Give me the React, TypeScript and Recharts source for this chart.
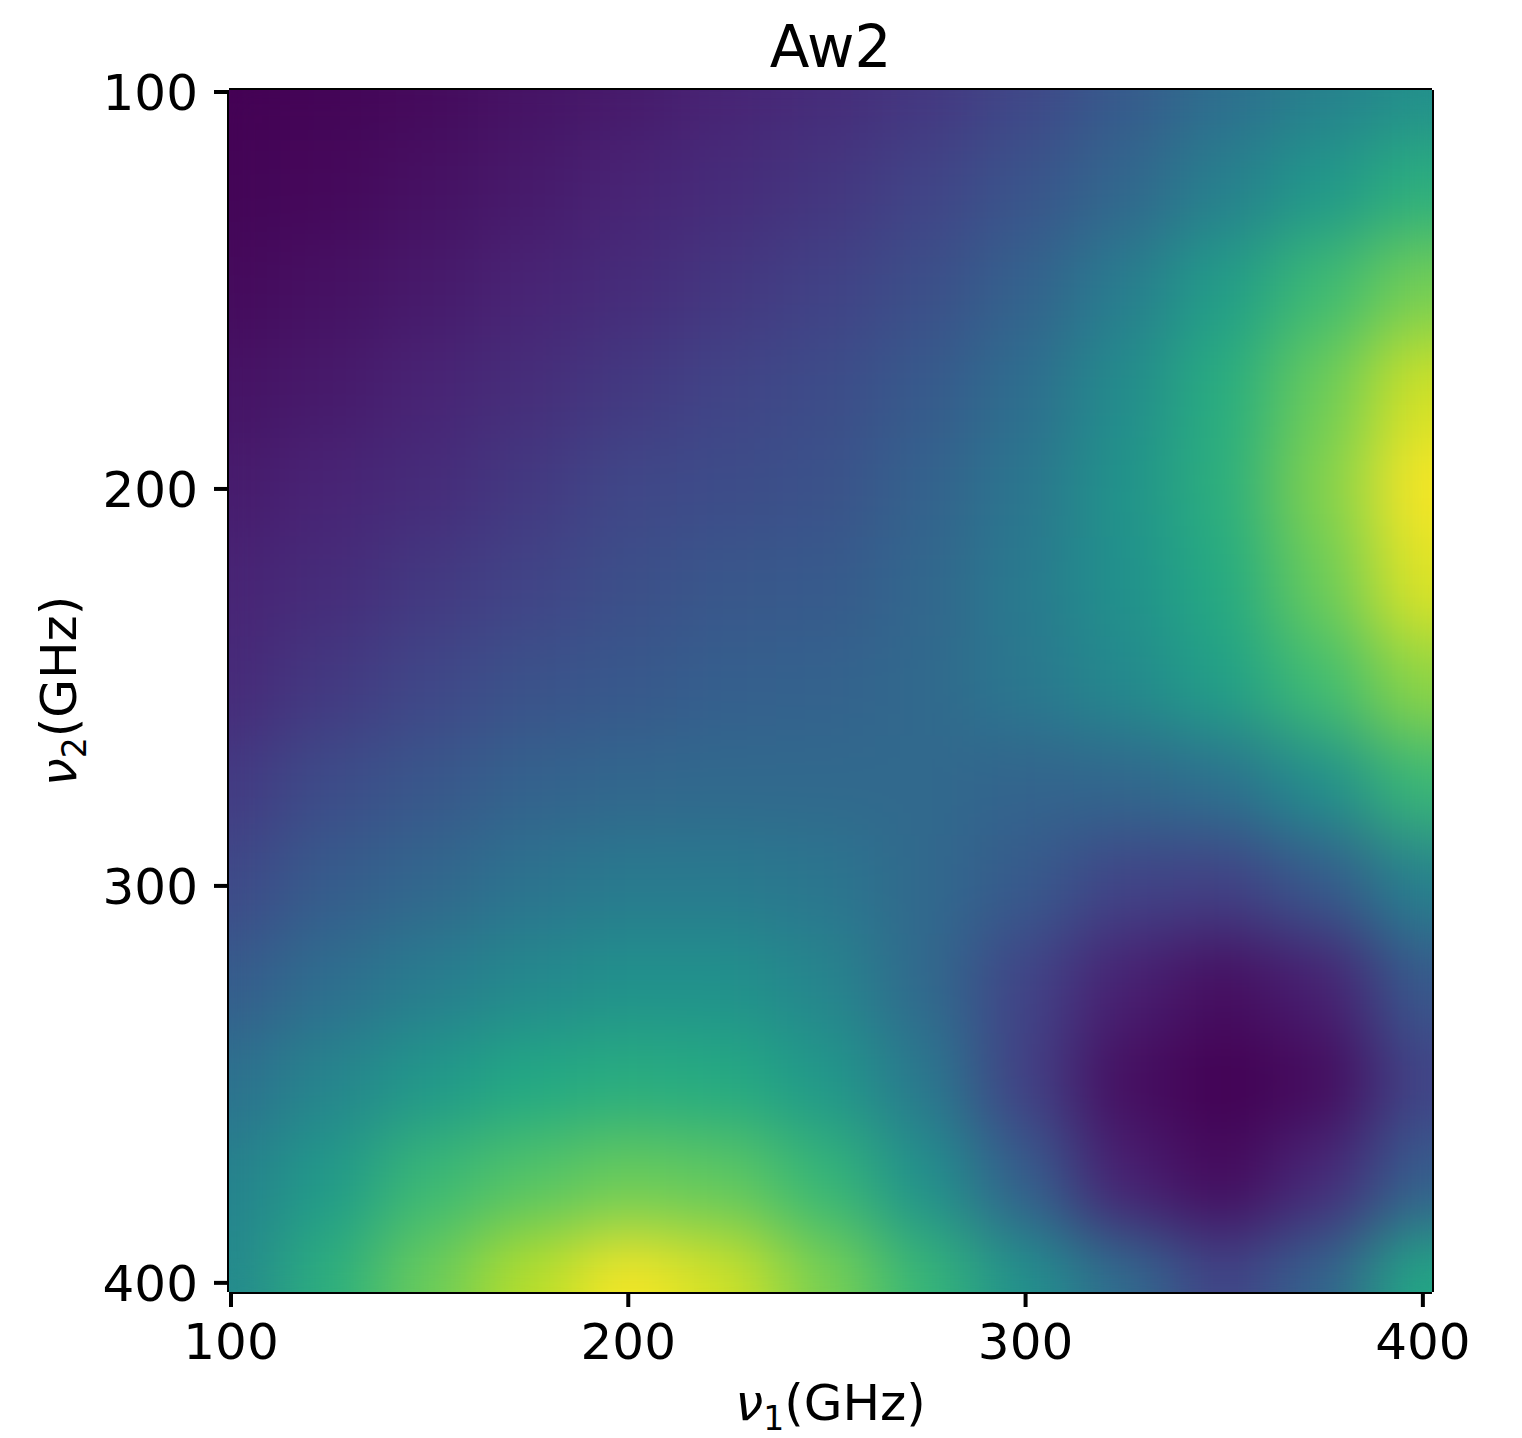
import React from "react";
import { ReferenceLine, Scatter, ScatterChart, XAxis, YAxis } from "recharts";

// grid positions (GHz)
const nu1 = [100, 125, 150, 175, 200, 225, 250, 275, 300, 325, 350, 375, 400];
const nu2 = [100, 125, 150, 175, 200, 225, 250, 275, 300, 325, 350, 375, 400];
const axisTicks = [100, 200, 300, 400];
const axisDomain: [number, number] = [99.5, 402.3];

// Aw2 on a 0..1 colour scale, one row per nu2 value, read across nu1
const aw2At100 = [0.0, 0.01, 0.025, 0.05, 0.07, 0.1, 0.125, 0.16, 0.21, 0.28, 0.36, 0.43, 0.49];
const aw2At125 = [0.01, 0.02, 0.045, 0.07, 0.1, 0.125, 0.155, 0.2, 0.26, 0.33, 0.43, 0.53, 0.63];
const aw2At150 = [0.025, 0.045, 0.07, 0.1, 0.125, 0.16, 0.195, 0.24, 0.31, 0.42, 0.55, 0.68, 0.79];
const aw2At175 = [0.05, 0.07, 0.1, 0.13, 0.165, 0.2, 0.23, 0.28, 0.36, 0.48, 0.62, 0.77, 0.93];
const aw2At200 = [0.075, 0.1, 0.125, 0.165, 0.21, 0.23, 0.25, 0.31, 0.39, 0.51, 0.63, 0.81, 0.99];
const aw2At225 = [0.1, 0.125, 0.165, 0.2, 0.24, 0.27, 0.28, 0.33, 0.41, 0.5, 0.61, 0.77, 0.95];
const aw2At250 = [0.12, 0.165, 0.21, 0.25, 0.275, 0.3, 0.31, 0.34, 0.4, 0.47, 0.56, 0.69, 0.83];
const aw2At275 = [0.17, 0.23, 0.27, 0.31, 0.33, 0.34, 0.34, 0.34, 0.32, 0.33, 0.37, 0.49, 0.67];
const aw2At300 = [0.22, 0.29, 0.33, 0.38, 0.41, 0.41, 0.39, 0.34, 0.28, 0.2, 0.19, 0.28, 0.44];
const aw2At325 = [0.29, 0.36, 0.42, 0.47, 0.5, 0.5, 0.45, 0.34, 0.2, 0.09, 0.04, 0.09, 0.28];
const aw2At350 = [0.37, 0.45, 0.53, 0.6, 0.62, 0.61, 0.53, 0.4, 0.19, 0.04, 0.0, 0.03, 0.2];
const aw2At375 = [0.44, 0.54, 0.67, 0.73, 0.77, 0.75, 0.66, 0.5, 0.3, 0.09, 0.03, 0.12, 0.3];
const aw2At400 = [0.47, 0.63, 0.77, 0.89, 0.99, 0.93, 0.8, 0.66, 0.5, 0.35, 0.2, 0.32, 0.6];

const aw2Rows = [
  aw2At100, aw2At125, aw2At150, aw2At175, aw2At200, aw2At225, aw2At250,
  aw2At275, aw2At300, aw2At325, aw2At350, aw2At375, aw2At400,
];

const cells = nu2.flatMap((y, i) => nu1.map((x, j) => ({ x, y, v: aw2Rows[i][j] })));

const viridis = [
  [68, 1, 84], [72, 36, 117], [65, 68, 135], [53, 95, 141], [42, 120, 142],
  [33, 145, 140], [34, 168, 132], [68, 191, 112], [122, 209, 81], [189, 223, 38], [253, 231, 37],
];

function colourOf(v: number) {
  const t = Math.min(1, Math.max(0, v)) * (viridis.length - 1);
  const i = Math.min(viridis.length - 2, Math.floor(t));
  const f = t - i;
  const c = viridis[i].map((a, k) => Math.round(a + (viridis[i + 1][k] - a) * f));
  return `rgb(${c.join(",")})`;
}

const FONT = "'DejaVu Sans', sans-serif";

function HeatCell(props: any) {
  const { cx, cy, payload } = props;
  if (cx == null || cy == null) return null;
  const s = 102;
  return <rect x={cx - s / 2} y={cy - s / 2} width={s} height={s} fill={colourOf(payload.v)} />;
}

function XTitle(props: any) {
  const { x, y, width } = props.viewBox;
  return (
    <text x={x + width / 2} y={y + 128} textAnchor="middle" fontFamily={FONT} fontSize={50} fill="#000">
      <tspan fontStyle="italic">ν</tspan>
      <tspan fontSize={33} dy={10}>1</tspan>
      <tspan dy={-10}>(GHz)</tspan>
    </text>
  );
}

function YTitle(props: any) {
  const { y, height } = props.viewBox;
  const cx = 68;
  const cy = y + height / 2;
  return (
    <text
      x={cx}
      y={cy}
      transform={`rotate(-90, ${cx}, ${cy})`}
      textAnchor="middle"
      fontFamily={FONT}
      fontSize={50}
      fill="#000"
    >
      <tspan fontStyle="italic">ν</tspan>
      <tspan fontSize={33} dy={10}>2</tspan>
      <tspan dy={-10}>(GHz)</tspan>
    </text>
  );
}

const tickStyle = { fill: "#000", fontSize: 50, fontFamily: FONT };

export default function App() {
  return (
    <div style={{ position: "relative", width: 1506, height: 1422 }}>
      <style>{`.aw2-heat { filter: url(#aw2Blur); }`}</style>
      <svg width={1506} height={1422} style={{ position: "absolute", left: 0, top: 0, pointerEvents: "none" }}>
        <defs>
          <filter id="aw2Blur" x="-10%" y="-10%" width="120%" height="120%" colorInterpolationFilters="sRGB">
            <feGaussianBlur stdDeviation={34} />
            <feComponentTransfer>
              <feFuncA type="table" tableValues="1 1" />
            </feComponentTransfer>
          </filter>
        </defs>
        <text x={822.5} y={59} textAnchor="middle" fontFamily={FONT} fontSize={58} fill="#000">
          Aw2
        </text>
      </svg>
      <ScatterChart width={1506} height={1430} margin={{ top: 82, right: 82, bottom: 0, left: 0 }}>
        <XAxis
          dataKey="x"
          type="number"
          domain={axisDomain}
          ticks={axisTicks}
          allowDataOverflow
          height={146}
          tick={tickStyle}
          tickSize={15}
          tickMargin={16}
          tickLine={{ stroke: "#000", strokeWidth: 4 }}
          axisLine={{ stroke: "#000", strokeWidth: 4 }}
          label={<XTitle />}
        />
        <YAxis
          dataKey="y"
          type="number"
          domain={axisDomain}
          ticks={axisTicks}
          reversed
          allowDataOverflow
          width={221}
          tick={tickStyle}
          tickSize={15}
          tickMargin={16}
          tickLine={{ stroke: "#000", strokeWidth: 4 }}
          axisLine={{ stroke: "#000", strokeWidth: 4 }}
          label={<YTitle />}
        />
        <Scatter
          className="aw2-heat"
          data={cells}
          shape={<HeatCell />}
          isAnimationActive={false}
        />
        <ReferenceLine y={axisDomain[0]} stroke="#000" strokeWidth={4} />
        <ReferenceLine x={axisDomain[1]} stroke="#000" strokeWidth={4} />
      </ScatterChart>
    </div>
  );
}
